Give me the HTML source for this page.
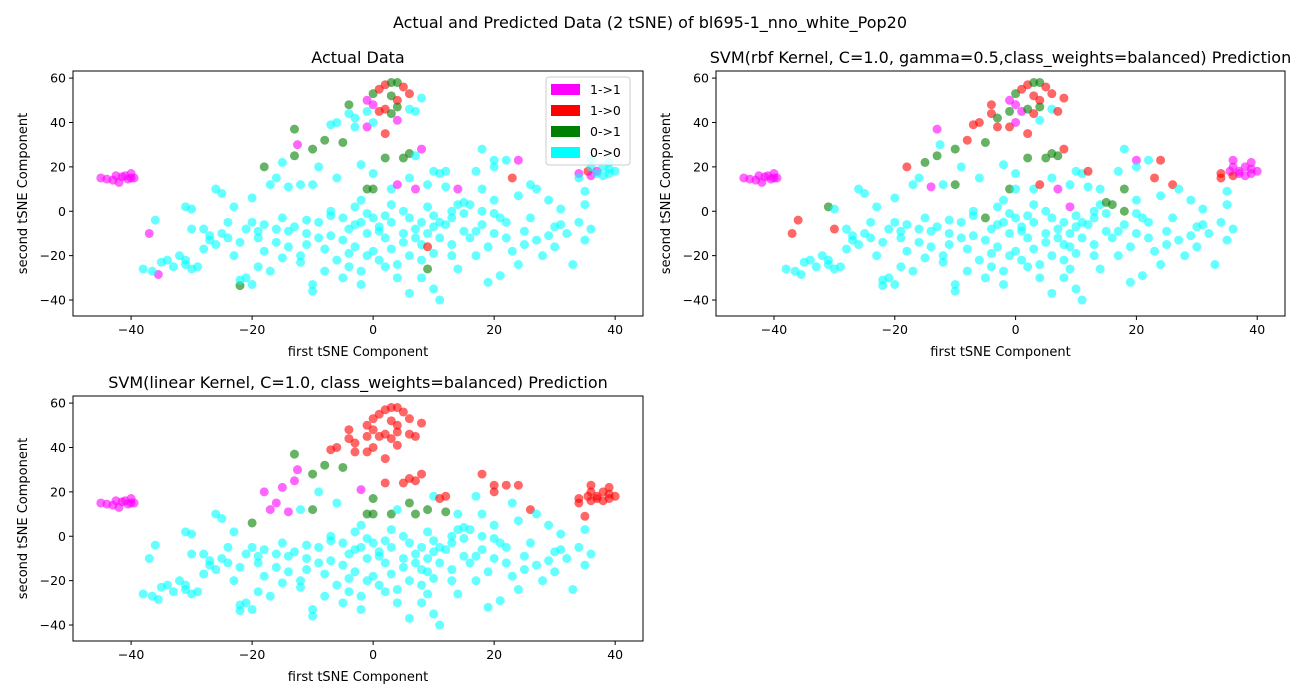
<!DOCTYPE html>
<html><head><meta charset="utf-8"><style>
body{margin:0;background:#fff;}
svg{display:block;font-family:"DejaVu Sans","Liberation Sans",sans-serif;}
</style></head><body>
<svg id="chart" width="1300" height="700"></svg>
<script>
// Shared tSNE coordinates (10 per line) and per-panel class codes (m=1->1, r=1->0, g=0->1, c=0->0)
const xs=[-45,-44,-43,-42.5,-42,-41.5,-41,-40.5,-40,-40,
-39.5,-37,-36,-35.5,-36.5,-38,-35,-34,-33,-32,
-31,-31,-30,-30,-31,-30,-29,-28,-27,-26,
-25,-25,-24,-23,-23,-22,-22,-21,-21,-20,
-20,-20,-19,-19,-18,-18,-18,-17,-17,-16,
-16,-16,-15,-15,-14,-14,-14,-13,-13,-12.5,
-12,-12,-11,-11,-10,-10,-10,-10,-9,-9,
-9,-8,-8,-8,-7,-7,-7,-6,-6,-6,
-5,-5,-5,-5,-4,-4,-4,-4,-4,-3,
-3,-3,-3,-2,-2,-2,-2,-2,-1,-1,
-1,-1,-1,-1,0,0,0,0,0,0,
0,1,1,1,1,2,2,2,2,2,
2,2,3,3,3,3,3,3,4,4,
4,4,4,4,4,5,5,5,5,6,
6,6,6,6,6,6,7,7,7,7,
8,8,8,8,8,9,9,9,9,9,
10,10,10,10,10,11,11,11,12,12,
12,13,13,13,14,14,14,15,15,16,
16,17,17,18,18,18,18,19,19,20,
20,20,20,20,21,22,22,22,23,23,
24,24,24,25,26,26,27,27,28,29,
30,30,31,32,33,34,34,34,35,35,
35,35.5,36,36,36,36,37,37,38,38,
39,39,40,39,
-27,-26,-24,-22,-19,-15,-13,-11,-7,-3,1,3,5,7,11,13,17,21,25,29,31,-28,-12,-1,8,15];
const ys=[15,14.5,14,16,13,15.5,16,14.5,15,17,
15,-10,-4,-28.5,-27,-26,-23,-22,-25,-20,
-22,2,1,-8,-24,-26,-25,-8,-13,10,
8,-10,-12,2,-20,-33.5,-31,-8,-30,-33,
-5,6,-12,-25,-6,20,-18,-27,12,15,
-8,-14,-21,22,-9,-16,11,25,37,30,
12,-20,-10,-15,28,12,-33,-36,-5,-12,
20,32,-27,-17,39,0,-11,40,-22,15,
31,-3,-13,-30,48,44,-8,-19,-25,42,
38,2,-16,21,-5,5,-27,-33,50,45,
38,10,-1,-10,48,53,40,17,10,-3,
-18,55,45,-7,-22,57,46,35,24,-2,
-12,-25,58,52,44,10,-5,-17,58,50,
47,41,12,-24,-30,56,24,0,-10,53,
46,26,15,-3,-20,-37,45,25,10,-8,
51,28,-5,-15,-22,-16,-26,-10,12,2,
18,-2,-7,-35,-19,-40,-12,17,18,11,
-6,0,-3,-15,10,-26,3,4,-9,-12,
3,18,-20,28,10,0,-6,-32,-16,23,
20,5,-1,-10,-29,23,-5,-12,15,-18,
-24,23,7,-15,12,-3,10,-13,-20,5,
-16,-7,1,-10,-24,17,15,-5,9,3,
-13,18,16,23,20,-8,18,17,16,20,
22,19,18,17,
-11,-15,-5,-14,-9,-3,-7,-4,-2,-6,-9,3,-14,-12,-5,-20,-9,-3,-9,-11,-6,-17,-23,-20,-30,-1];
const actual=("mmmmmmmmmm"+"mmcmcccccc"+"cccccccccc"+"cccccgcccc"+"cccccgcccc"+"cccccccggm"+"ccccgccccc"+"cgcccccccc"+"gcccgccccc"+"ccccccccmc"+
"mgccmgccgc"+"crrccrrrgc"+"ccgggcccgr"+"gmmccrgccr"+"cgccccccmc"+"cmcccrgccc"+"cccccccccc"+"ccccmccccc"+"cccccccccc"+"ccccccccrc"+
"cmcccccccc"+"cccccmcccc"+"crmcccmccc"+"cccc").split('');
const rbf=("mmmmmmmmmm"+"mrrccccccc"+"cgcrcccccc"+"cccccccccc"+"cccccrcccc"+"cccgccmgmc"+"ccccggcccc"+"crccrccrcc"+"ggccrrcccg"+"rcccccccmg"+
"rgccmgmccc"+"crmccrgrgc"+"ccgrrcccgr"+"gcrccrgccr"+"cgccccrgmc"+"rrcccccccm"+"ccccccccrc"+"cccccccgcc"+"gcccggcccm"+"ccccccccrc"+
"crccrccccc"+"cccccrrccc"+"cmrmmcmmmm"+"mmmm").split('');
const lin=("mmmmmmmmmm"+"mccccccccc"+"cccccccccc"+"cccccccccc"+"cgcccmccmm"+"cccmccmmgm"+"ccccggcccc"+"cgccrccrcc"+"gcccrrcccr"+"rccmccccrr"+
"rgccrrrggc"+"crrccrrrrc"+"ccrrrgccrr"+"rrcccrrccr"+"rrgcccrrgc"+"rrccccccgc"+"cccccccrrg"+"cccccccccc"+"cccrcccccr"+"rccccrcccc"+
"crccrccccc"+"cccccrrcrc"+"crrrrcrrrr"+"rrrr").split('');
const xTicks=[-40,-20,0,20,40];
const yTicks=[-40,-20,0,20,40,60];
const colors={m:"#ff00ff",r:"#ff0000",g:"#008000",c:"#00ffff"};
const NS="http://www.w3.org/2000/svg";
const svg=document.getElementById('chart');
function mk(tag,attrs,parent){const e=document.createElementNS(NS,tag);for(const k in attrs)e.setAttribute(k,attrs[k]);(parent||svg).appendChild(e);return e;}
function txt(s,x,y,size,anchor,parent){const t=mk('text',{x:x,y:y,'font-size':size,'text-anchor':anchor||'middle',fill:'#000'},parent);t.textContent=s;return t;}
const t0=txt("Actual and Predicted Data (2 tSNE) of bl695-1_nno_white_Pop20",650,28,16);


const xMin=-49.6,xMax=44.6,yMin=-47.2,yMax=63.2;
function panel(L,T,W,H,title,codes,name,xlabel){
  const g=mk('g',{});
  
  
  const sx=v=>L+(v-xMin)/(xMax-xMin)*W;
  const sy=v=>T+H-(v-yMin)/(yMax-yMin)*H;
  for(let i=0;i<xs.length;i++){
    const c=mk('circle',{cx:sx(xs[i]),cy:sy(ys[i]),r:4.5,fill:colors[codes[i]||'c'],'fill-opacity':0.6},g);
    
    
  }
  const fr=mk('rect',{x:L,y:T,width:W,height:H,fill:'none',stroke:'#000','stroke-width':1},g);
  
  
  xTicks.forEach(v=>{const x=sx(v);mk('line',{x1:x,x2:x,y1:T+H,y2:T+H+4,stroke:'#000'},g);txt(String(v).replace('-','−'),x,T+H+18,12.5,'middle',g);});
  yTicks.forEach(v=>{const y=sy(v);mk('line',{x1:L-4,x2:L,y1:y,y2:y,stroke:'#000'},g);txt(String(v).replace('-','−'),L-7,y+4.5,12.5,'end',g);});
  const tt=txt(title,L+W/2,T-8,16,'middle',g);
  
  
  if(xlabel){const xl=txt("first tSNE Component",L+W/2,T+H+40,13,'middle',g);
    
    }
  const yl=txt("second tSNE Component",0,0,13,'middle',g);
  yl.setAttribute('transform',`translate(${L-46},${T+H/2}) rotate(-90)`);
  
  
  return g;
}
panel(73,71,570,245,"Actual Data",actual,"actual-panel",true);
panel(716,71,569,245,"SVM(rbf Kernel, C=1.0, gamma=0.5,class_weights=balanced) Prediction",rbf,"rbf-panel",true);
panel(73,396,570,245,"SVM(linear Kernel, C=1.0, class_weights=balanced) Prediction",lin,"linear-panel",true);
// legend
const lg=mk('g',{});


mk('rect',{x:546,y:77,width:84,height:88,rx:3,fill:'#fff','fill-opacity':0.8,stroke:'#ccc'},lg);
const legLabels=["1->1","1->0","0->1","0->0"],legCodes=["m","r","g","c"];
legLabels.forEach((s,i)=>{
  const y=84+i*21;
  const r=mk('rect',{x:551,y:y,width:29,height:11,fill:colors[legCodes[i]]},lg);
  
  
  const t=txt(s,590,y+10,12.5,'start',lg);
  
  
});
</script>
</body></html>
